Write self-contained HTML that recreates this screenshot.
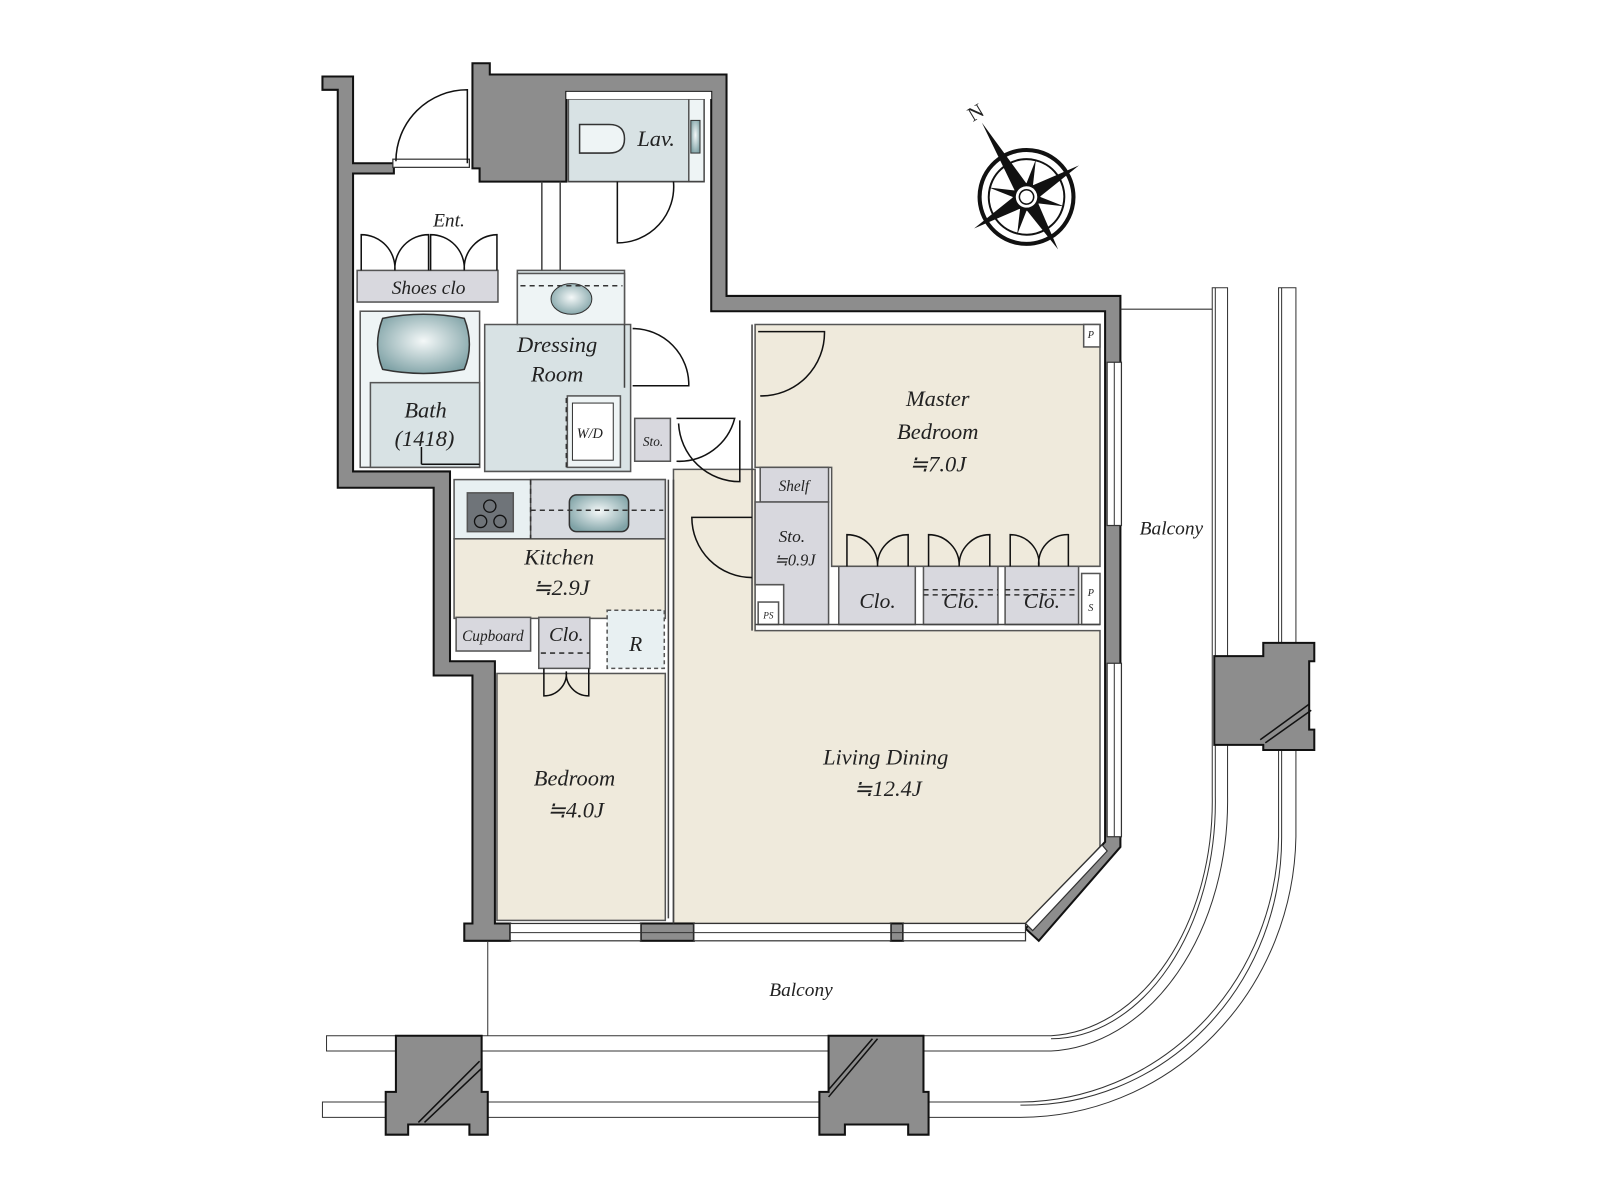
<!DOCTYPE html>
<html><head><meta charset="utf-8"><style>
html,body{margin:0;padding:0;background:#fff;}
svg{display:block}
text{font-family:"Liberation Serif",serif;font-style:italic;fill:#222;text-anchor:middle}
</style></head><body>
<svg width="1600" height="1200" viewBox="0 0 1568 1176" xmlns="http://www.w3.org/2000/svg">
<defs>
<radialGradient id="fx" cx="50%" cy="45%" r="60%"><stop offset="0" stop-color="#f4f8f8"/><stop offset="1" stop-color="#7fa2a6"/></radialGradient>
</defs>
<g stroke="#555" stroke-width="1.5">
<polygon points="740,318 1078,318 1078,555 815,555 815,458 740,458" fill="#efeadc"/>
<polygon points="660,460 740,460 740,618 1078,618 1078,830 1005,905 660,905" fill="#efeadc"/>
<rect x="487" y="660" width="165" height="242" fill="#efeadc"/>
<rect x="445" y="528" width="207" height="78" fill="#efeadc"/>
<rect x="445" y="470" width="207" height="58" fill="#e8f0f2"/>
<rect x="520" y="470" width="132" height="58" fill="#d8dbe0"/>
<rect x="353" y="305" width="117" height="153" fill="#eef4f5"/>
<rect x="363" y="375" width="107" height="83" fill="#d8e2e4"/>
<polygon points="507,265 612,265 612,318 618,318 618,462 475,462 475,318 507,318" fill="#d8e2e4"/>
<rect x="507" y="268" width="105" height="50" fill="#eef4f5"/>
<rect x="556" y="388" width="52" height="70" fill="#eef4f5"/>
<rect x="557" y="97" width="133" height="81" fill="#d8e2e4"/>
<rect x="675" y="97" width="15" height="81" fill="#eef4f5"/>
<rect x="350" y="265" width="138" height="31" fill="#d8d8de"/>
<rect x="745" y="458" width="67" height="34" fill="#d8d8de"/>
<polygon points="740,492 812,492 812,612 768,612 768,573 740,573" fill="#d8d8de"/>
<rect x="743" y="590" width="20" height="22" fill="#fff"/>
<rect x="822" y="555" width="75" height="57" fill="#d8d8de"/>
<rect x="905" y="555" width="73" height="57" fill="#d8d8de"/>
<rect x="985" y="555" width="72" height="57" fill="#d8d8de"/>
<rect x="1060" y="562" width="18" height="50" fill="#fff"/>
<rect x="1062" y="318" width="16" height="22" fill="#fff"/>
<rect x="622" y="410" width="35" height="42" fill="#d8d8de"/>
<rect x="447" y="605" width="73" height="33" fill="#d8d8de"/>
<rect x="528" y="605" width="50" height="50" fill="#d8d8de"/>
<rect x="595" y="598" width="56" height="57" fill="#e8f0f2" stroke-dasharray="4,3"/>
<rect x="458" y="483" width="45" height="38" fill="#6f7479"/>
</g>
<ellipse cx="560" cy="293" rx="20" ry="15" fill="url(#fx)" stroke="#333"/>
<path d="M375,312 Q415,304 455,312 Q465,338 455,362 Q415,370 375,362 Q365,338 375,312Z" fill="url(#fx)" stroke="#333" stroke-width="1.5"/>
<rect x="558" y="485" width="58" height="36" rx="7" fill="url(#fx)" stroke="#333" stroke-width="1.5"/>
<path d="M568,122 L597,122 Q612,122 612,136 Q612,150 597,150 L568,150Z" fill="#eef4f5" stroke="#333" stroke-width="1.5"/>
<rect x="677" y="118" width="9" height="32" fill="url(#fx)" stroke="#333"/>
<rect x="561" y="395" width="40" height="56" fill="#fff" stroke="#333"/>
<g fill="none" stroke="#111" stroke-width="1.3"><circle cx="480" cy="496" r="6"/><circle cx="471" cy="511" r="6"/><circle cx="490" cy="511" r="6"/></g>
<g stroke="#333" stroke-dasharray="5,4" fill="none" stroke-width="1.5">
<line x1="510" y1="280" x2="610" y2="280"/><line x1="520" y1="500" x2="650" y2="500"/><line x1="520" y1="470" x2="520" y2="528"/>
<line x1="905" y1="578" x2="978" y2="578"/><line x1="905" y1="583" x2="978" y2="583"/>
<line x1="985" y1="578" x2="1057" y2="578"/><line x1="985" y1="583" x2="1057" y2="583"/>
<line x1="530" y1="640" x2="578" y2="640"/><line x1="555" y1="390" x2="555" y2="458"/>
</g>
<g fill="#8d8d8d" stroke="#111" stroke-width="2">
<polygon points="316,75 346,75 346,160 386,160 386,170 346,170 346,462 441,462 441,648 485,648 485,905 500,905 500,922 455,922 455,905 463,905 463,662 425,662 425,478 331,478 331,88 316,88"/>
<polygon points="463,62 480,62 480,73 712,73 712,290 1098,290 1098,830 1018,922 1005,910 1083,825 1083,305 697,305 697,90 555,90 555,178 470,178 470,165 463,165"/>
<rect x="628" y="905" width="52" height="17"/>
<rect x="873" y="905" width="12" height="17"/>
</g>
<rect x="555" y="90" width="142" height="7" fill="#fff"/>
<g fill="#fff" stroke="#333" stroke-width="1.2">
<rect x="1085" y="355" width="14" height="160"/><rect x="1085" y="650" width="14" height="170"/>
<rect x="500" y="905" width="128" height="17"/><rect x="680" y="905" width="193" height="17"/><rect x="885" y="905" width="120" height="17"/>
<polygon points="1005,905 1080,828 1085,834 1012,912"/>
<rect x="385" y="156" width="75" height="8"/>
</g>
<g stroke="#333" stroke-width="1"><line x1="1092" y1="355" x2="1092" y2="515"/><line x1="1092" y1="650" x2="1092" y2="820"/><line x1="500" y1="914" x2="1005" y2="914"/></g>
<g stroke="#444" stroke-width="1.5" fill="none">
<line x1="531" y1="178" x2="531" y2="265"/><line x1="549" y1="178" x2="549" y2="265"/>
<line x1="557" y1="178" x2="690" y2="178"/>
<line x1="655" y1="470" x2="655" y2="900"/><line x1="660" y1="470" x2="660" y2="905"/>
<line x1="737" y1="318" x2="737" y2="618"/><line x1="740" y1="612" x2="1078" y2="612"/>
<line x1="612" y1="318" x2="612" y2="380"/>
</g>
<g stroke="#111" stroke-width="1.5" fill="none">
<path d="M458,160 L458,88 A70,70 0 0 0 388,158"/>
<path d="M605,178 L605,238 A55,55 0 0 0 660,178"/>
<path d="M620,378 L675,378 A55,55 0 0 0 620,322"/>
<path d="M743,325 L808,325 A62,62 0 0 1 745,388"/>
<path d="M663,410 L720,410 A56,56 0 0 1 663,452"/>
<path d="M725,412 L725,472 A60,60 0 0 1 665,415"/>
<path d="M737,507 L678,507 A59,59 0 0 0 737,566"/>
<path d="M354,265 L354,230 A33,33 0 0 1 387,265 M420,265 L420,230 A33,33 0 0 0 387,265"/>
<path d="M422,265 L422,230 A33,33 0 0 1 455,265 M487,265 L487,230 A33,33 0 0 0 455,265"/>
<path d="M830,555 L830,524 A30,30 0 0 1 860,555 M890,555 L890,524 A30,30 0 0 0 860,555"/>
<path d="M910,555 L910,524 A30,30 0 0 1 940,555 M970,555 L970,524 A30,30 0 0 0 940,555"/>
<path d="M990,555 L990,524 A28,28 0 0 1 1018,555 M1047,555 L1047,524 A28,28 0 0 0 1018,555"/>
<path d="M533,655 L533,682 A22,22 0 0 0 555,658 M577,655 L577,682 A22,22 0 0 1 555,658"/>
<path d="M413,455 L413,438 M413,455 L470,455"/>
</g>
<g stroke="#333" stroke-width="1" fill="none">
<line x1="1098" y1="303" x2="1188" y2="303"/>
<line x1="478" y1="922" x2="478" y2="1015"/>
<path d="M1188,282 L1188,780 A165,230 0 0 1 1030,1015 L320,1015 L320,1030 L1030,1030 A180,245 0 0 0 1203,780 L1203,282 Z"/>
<path d="M1191,282 L1191,780 A162,232 0 0 1 1030,1018"/>
<path d="M1253,282 L1253,820 A255,265 0 0 1 1000,1080 L316,1080 L316,1095 L1000,1095 A270,280 0 0 0 1270,820 L1270,282 Z"/>
<path d="M1256,282 L1256,820 A252,262 0 0 1 1000,1083"/>
</g>
<g fill="#8d8d8d" stroke="#111" stroke-width="2">
<polygon points="1190,643 1238,643 1238,630 1288,630 1288,648 1283,648 1283,715 1288,715 1288,735 1238,735 1238,730 1190,730"/>
<polygon points="388,1015 472,1015 472,1070 478,1070 478,1112 460,1112 460,1102 400,1102 400,1112 378,1112 378,1070 388,1070"/>
<polygon points="812,1015 905,1015 905,1070 910,1070 910,1112 890,1112 890,1102 828,1102 828,1112 803,1112 803,1070 812,1070"/>
</g>
<g stroke="#111" stroke-width="1.5"><line x1="1235" y1="725" x2="1283" y2="690"/><line x1="1240" y1="728" x2="1285" y2="696"/>
<line x1="410" y1="1100" x2="470" y2="1040"/><line x1="416" y1="1100" x2="472" y2="1047"/>
<line x1="812" y1="1075" x2="860" y2="1018"/><line x1="812" y1="1068" x2="855" y2="1018"/></g>
<g transform="translate(1006,193) rotate(-31)">
<circle r="46" fill="none" stroke="#111" stroke-width="4"/><circle r="37" fill="none" stroke="#111" stroke-width="2"/>
<polygon points="0,-85 7,-8 0,0 -7,-8" fill="#111"/><polygon points="0,60 7,8 0,0 -7,8" fill="#111"/>
<polygon points="-60,0 -8,7 0,0 -8,-7" fill="#111"/><polygon points="60,0 8,7 0,0 8,-7" fill="#111"/>
<g transform="rotate(45)"><polygon points="0,-38 5,0 -5,0" fill="#111"/><polygon points="0,38 5,0 -5,0" fill="#111"/><polygon points="-38,0 0,5 0,-5" fill="#111"/><polygon points="38,0 0,5 0,-5" fill="#111"/></g>
<circle r="12" fill="#fff" stroke="#111" stroke-width="3"/><circle r="7" fill="#fff" stroke="#111" stroke-width="1.5"/>
<text x="0" y="-90" font-size="20" style="font-style:normal">N</text>
</g>
<g font-size="22">
<text x="643" y="143">Lav.</text>
<text x="440" y="222" font-size="19">Ent.</text>
<text x="420" y="288" font-size="19">Shoes clo</text>
<text x="546" y="345">Dressing</text><text x="546" y="374">Room</text>
<text x="417" y="409">Bath</text><text x="416" y="437">(1418)</text>
<text x="578" y="429" font-size="14">W/D</text>
<text x="640" y="437" font-size="13">Sto.</text>
<text x="919" y="398">Master</text><text x="919" y="430">Bedroom</text><text x="919" y="462">≒7.0J</text>
<text x="778" y="481" font-size="15">Shelf</text>
<text x="776" y="531" font-size="17">Sto.</text><text x="779" y="554" font-size="16">≒0.9J</text>
<text x="753" y="606" font-size="9">PS</text>
<text x="860" y="596" font-size="21">Clo.</text><text x="942" y="596" font-size="21">Clo.</text><text x="1021" y="596" font-size="21">Clo.</text>
<text x="1069" y="584" font-size="10">P</text><text x="1069" y="599" font-size="10">S</text>
<text x="1069" y="331" font-size="10">P</text>
<text x="1148" y="524" font-size="19">Balcony</text>
<text x="548" y="553">Kitchen</text><text x="550" y="583">≒2.9J</text>
<text x="483" y="628" font-size="15">Cupboard</text>
<text x="555" y="628" font-size="20">Clo.</text>
<text x="623" y="638" font-size="21">R</text>
<text x="868" y="749">Living Dining</text><text x="870" y="780">≒12.4J</text>
<text x="563" y="770">Bedroom</text><text x="564" y="801">≒4.0J</text>
<text x="785" y="976" font-size="19">Balcony</text>
</g>
</svg>
</body></html>
